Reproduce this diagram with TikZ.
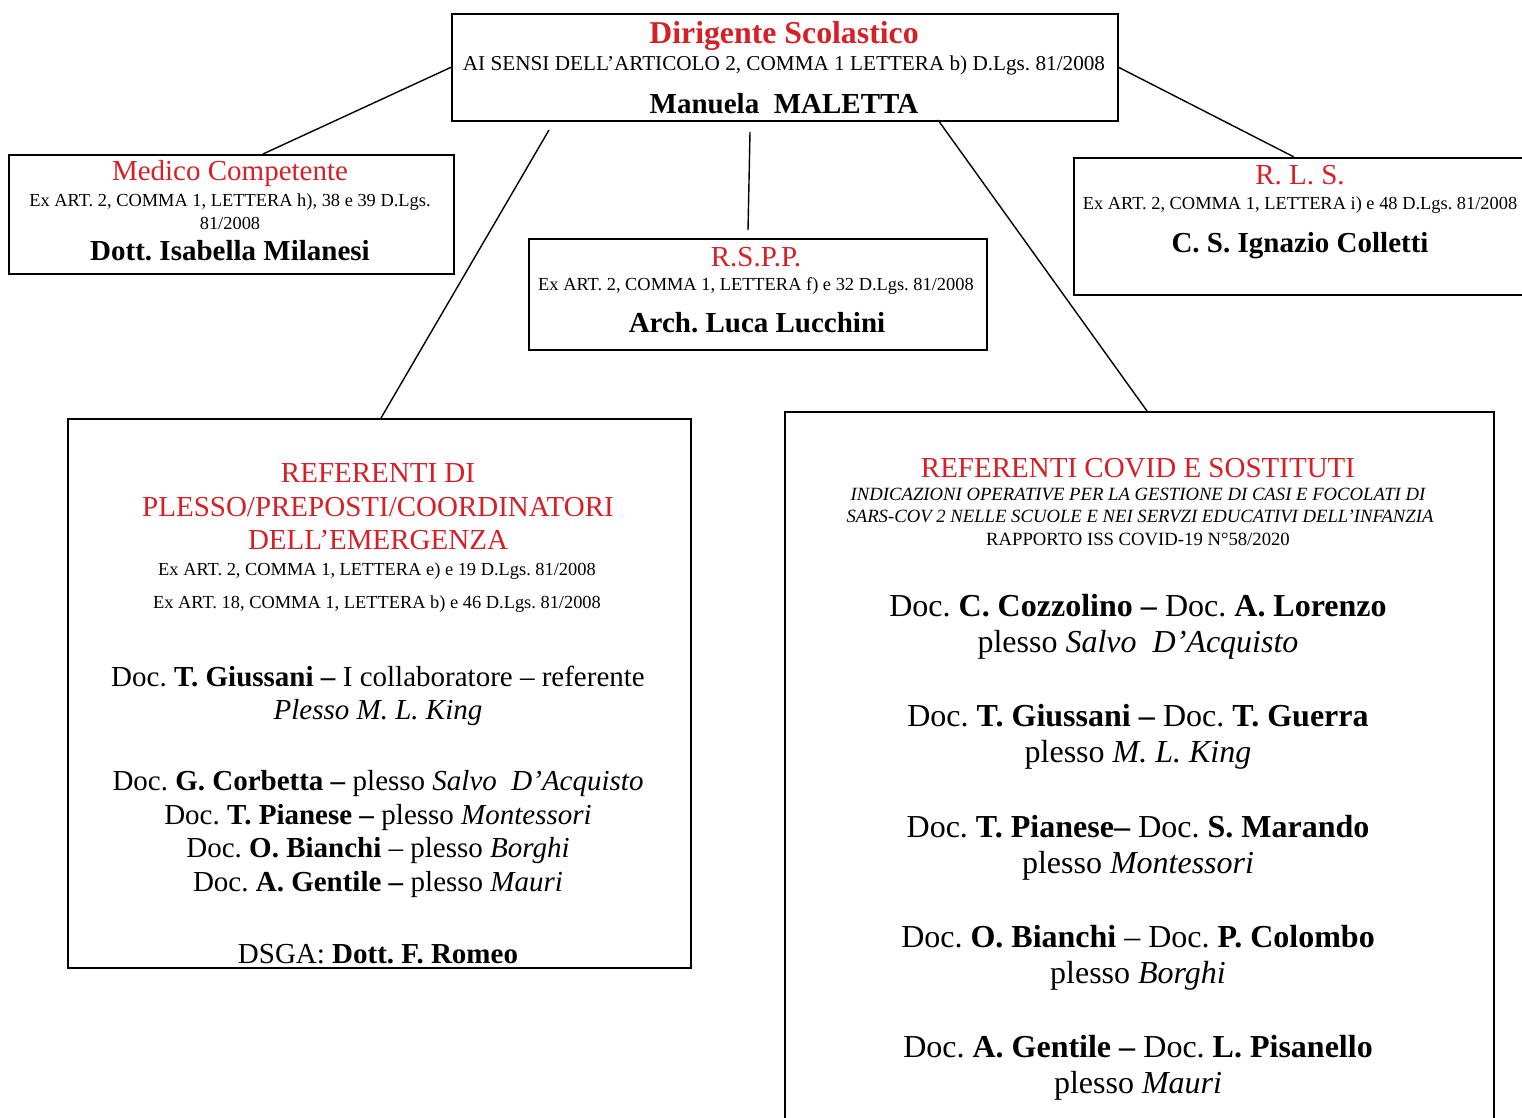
\documentclass[tikz,border=0pt]{standalone}
\usepackage{fontspec}
\setmainfont{Liberation Serif}
\definecolor{titlered}{RGB}{214,32,40}
\frenchspacing
\begin{document}
\begin{tikzpicture}[x=1pt,y=-1pt,
  frame/.style={draw, line width=1.6pt, anchor=north west, inner sep=0pt},
  big/.style={anchor=base, inner sep=0pt, font=\fontsize{29}{34}\selectfont},
  wide/.style={anchor=base, inner sep=0pt, font=\fontsize{32}{36}\selectfont},
  small/.style={anchor=base, inner sep=0pt, font=\fontsize{18.4}{22}\selectfont},
  note/.style={anchor=base, inner sep=0pt, font=\fontsize{18.7}{22}\selectfont},
  head/.style={big, text=titlered},
  conn/.style={line width=1.4pt}]
\useasboundingbox (0,0) rectangle (1522,1118);

% boxes
\node[frame, minimum width=666pt, minimum height=107pt] (ds) at (451,13) {};
\node[frame, minimum width=445pt, minimum height=119pt] (mc) at (8,154) {};
\node[frame, minimum width=458pt, minimum height=111pt] (rspp) at (528,238) {};
\node[frame, minimum width=462pt, minimum height=137pt] (rls) at (1073,157) {};
\node[frame, minimum width=623pt, minimum height=549pt] (ref) at (67,418) {};
\node[frame, minimum width=709pt, minimum height=730pt] (cov) at (784,411) {};

% connector ends
\coordinate (mcT) at (263,154);
\coordinate (rlsT) at (1294,157);
\coordinate (dsA) at (549,130);
\coordinate (refT) at (381,418);
\coordinate (dsB) at (750,132);
\coordinate (rsppT) at (748,230);
\coordinate (dsC) at (938,120);
\coordinate (covT) at (1147,411);

\draw[conn] (ds.west) -- (mcT);
\draw[conn] (ds.east) -- (rlsT);
\draw[conn] (dsA) -- (refT);
\draw[conn] (dsB) -- (rsppT);
\draw[conn] (dsC) -- (covT);

% Dirigente Scolastico
\node[head, font=\fontsize{31.8}{36}\selectfont\bfseries] (ds1) at (784,44) {Dirigente Scolastico};
\node[small, font=\fontsize{21.2}{24}\selectfont] (ds2) at (784,71) {AI SENSI DELL’ARTICOLO 2, COMMA 1 LETTERA b) D.Lgs. 81/2008};
\node[big, font=\fontsize{29}{34}\selectfont\bfseries] (ds3) at (784,114) {Manuela\ \ MALETTA};

% Medico Competente
\node[head] (mc1) at (230,181) {Medico Competente};
\node[small] (mc2) at (230,207) {Ex ART. 2, COMMA 1, LETTERA h), 38 e 39 D.Lgs.};
\node[small] (mc3) at (230,229) {81/2008};
\node[big, font=\fontsize{29}{34}\selectfont\bfseries] (mc4) at (230,260) {Dott. Isabella Milanesi};

% R.S.P.P.
\node[head] (rs1) at (756,266) {R.S.P.P.};
\node[small] (rs2) at (756,290) {Ex ART. 2, COMMA 1, LETTERA f) e 32 D.Lgs. 81/2008};
\node[big, font=\fontsize{29}{34}\selectfont\bfseries] (rs3) at (757,332) {Arch. Luca Lucchini};

% R. L. S.
\node[head] (rl1) at (1300,185) {R. L. S.};
\node[small] (rl2) at (1300,209) {Ex ART. 2, COMMA 1, LETTERA i) e 48 D.Lgs. 81/2008};
\node[big, font=\fontsize{29}{34}\selectfont\bfseries] (rl3) at (1300,252) {C. S. Ignazio Colletti};

% Referenti di plesso
\node[head] (rf1) at (378,482) {REFERENTI DI};
\node[head] (rf2) at (378,516) {PLESSO/PREPOSTI/COORDINATORI};
\node[head] (rf3) at (378,549) {DELL’EMERGENZA};
\node[small] (rf4) at (377,575) {Ex ART. 2, COMMA 1, LETTERA e) e 19 D.Lgs. 81/2008};
\node[small] (rf5) at (377,608) {Ex ART. 18, COMMA 1, LETTERA b) e 46 D.Lgs. 81/2008};
\node[big] (rf6) at (378,686) {Doc. \textbf{T. Giussani –} I collaboratore – referente};
\node[big] (rf7) at (378,719) {\itshape Plesso M. L. King};
\node[big] (rf8) at (378,790) {Doc. \textbf{G. Corbetta –} plesso \textit{Salvo\ \ D’Acquisto}};
\node[big] (rf9) at (378,824) {Doc. \textbf{T. Pianese –} plesso \textit{Montessori}};
\node[big] (rf10) at (378,857) {Doc. \textbf{O. Bianchi} – plesso \textit{Borghi}};
\node[big] (rf11) at (378,891) {Doc. \textbf{A. Gentile –} plesso \textit{Mauri}};
\node[big] (rf12) at (378,963) {DSGA: \textbf{Dott. F. Romeo}};

% Referenti COVID
\node[head] (cv1) at (1138,477) {REFERENTI COVID E SOSTITUTI};
\node[note, font=\fontsize{18.7}{22}\selectfont\itshape] (cv2) at (1138,500) {INDICAZIONI OPERATIVE PER LA GESTIONE DI CASI E FOCOLATI DI};
\node[note, font=\fontsize{18.7}{22}\selectfont\itshape] (cv3) at (1140,522) {SARS-COV 2 NELLE SCUOLE E NEI SERVZI EDUCATIVI DELL’INFANZIA};
\node[note] (cv4) at (1138,545) {RAPPORTO ISS COVID-19 N°58/2020};
\node[wide] (cv5) at (1138,616) {Doc. \textbf{C. Cozzolino – }Doc. \textbf{A. Lorenzo}};
\node[wide] (cv6) at (1138,652) {plesso \textit{Salvo\ \ D’Acquisto}};
\node[wide] (cv7) at (1138,726) {Doc. \textbf{T. Giussani – }Doc. \textbf{T. Guerra}};
\node[wide] (cv8) at (1138,762) {plesso \textit{M. L. King}};
\node[wide] (cv9) at (1138,837) {Doc. \textbf{T. Pianese–} Doc. \textbf{S. Marando}};
\node[wide] (cv10) at (1138,873) {plesso \textit{Montessori}};
\node[wide] (cv11) at (1138,947) {Doc. \textbf{O. Bianchi} – Doc. \textbf{P. Colombo}};
\node[wide] (cv12) at (1138,983) {plesso \textit{Borghi}};
\node[wide] (cv13) at (1138,1057) {Doc. \textbf{A. Gentile – }Doc. \textbf{L. Pisanello}};
\node[wide] (cv14) at (1138,1093) {plesso \textit{Mauri}};
\end{tikzpicture}
\end{document}
